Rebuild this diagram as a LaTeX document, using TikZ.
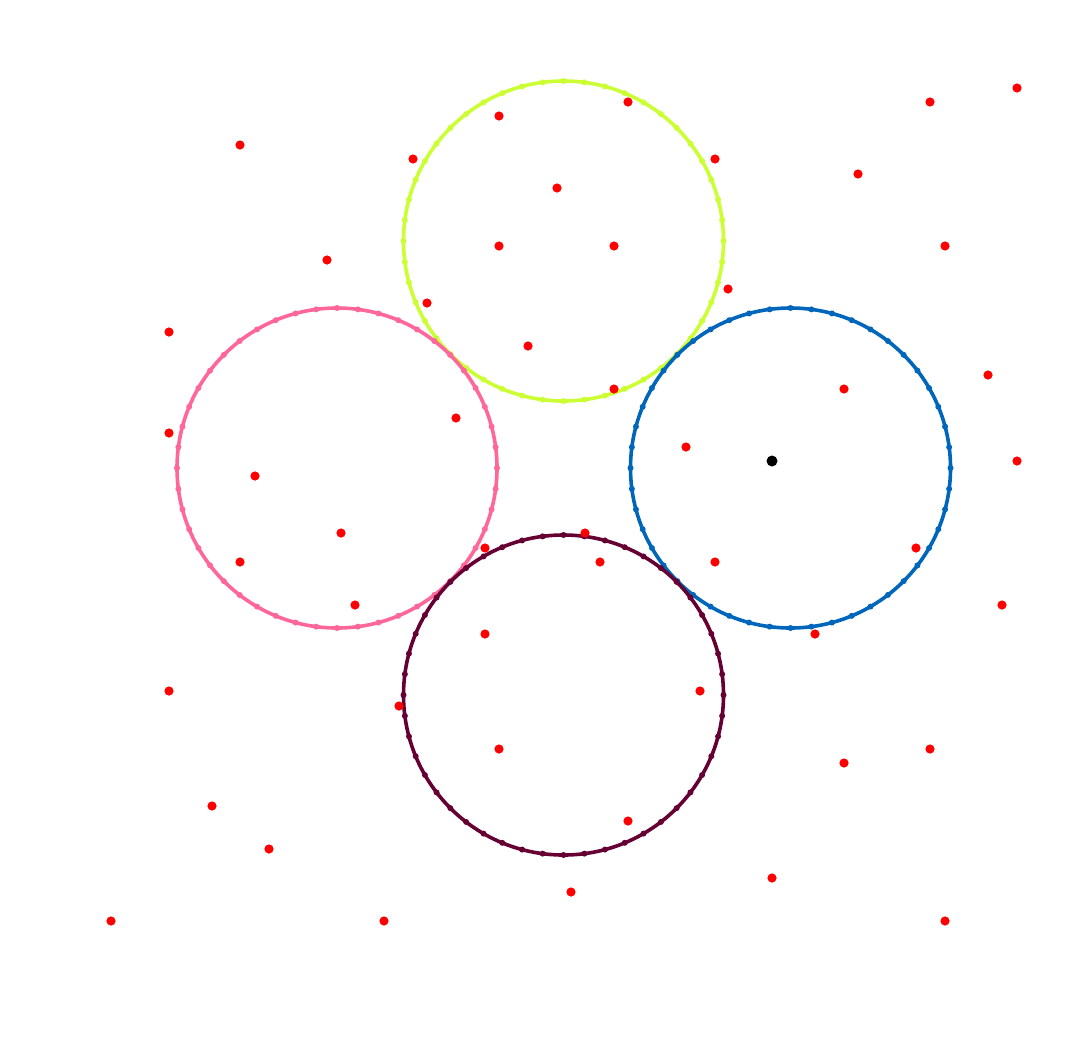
\documentclass[tikz,border=0pt]{standalone}
\usepackage{tikz}
\definecolor{cyel}{HTML}{CCFF33}
\definecolor{cpink}{HTML}{FF6699}
\definecolor{cblue}{HTML}{0066BB}
\definecolor{cmaroon}{HTML}{660033}
\definecolor{cred}{HTML}{FF0000}
\begin{document}
\begin{tikzpicture}[x=1pt,y=-1pt,
  ring/.style={line width=3.6pt},
  pt/.style={fill=cred}]
\useasboundingbox[fill=white] (0,0) rectangle (1067,1050);
% circles with vertex markers
\foreach \cx/\cy/\col in {563.5/241/cyel, 337/468/cpink, 790.5/468/cblue, 563.5/695/cmaroon}{
  \draw[ring,draw=\col] (\cx,\cy) circle[radius=160];
  \foreach \a in {0,7.5,...,352.5}{
    \fill[\col] ({\cx+160*cos(\a)},{\cy+160*sin(\a)}) circle[radius=3];
  }
}
% red points
\foreach \x/\y in {1017/88, 930/102, 628/102, 499/116, 240/145, 413/159, 715/159, 858/174,
  557/188, 499/246, 614/246, 945/246, 327/260, 728/289, 427/303, 169/332, 528/346, 988/375,
  614/389, 844/389, 456/418, 169/433, 686/447, 1017/461, 255/476, 341/533, 585/533, 485/548,
  916/548, 240/562, 600/562, 715/562, 355/605, 1002/605, 815/634, 485/634, 169/691, 700/691,
  399/706, 499/749, 930/749, 844/763, 212/806, 628/821, 269/849, 772/878, 571/892, 111/921,
  384/921, 945/921}{
  \fill[pt] (\x,\y) circle[radius=4.6];
}
\coordinate (blk) at (772,461);
\fill[black] (blk) circle[radius=5.5];
\end{tikzpicture}
\end{document}
